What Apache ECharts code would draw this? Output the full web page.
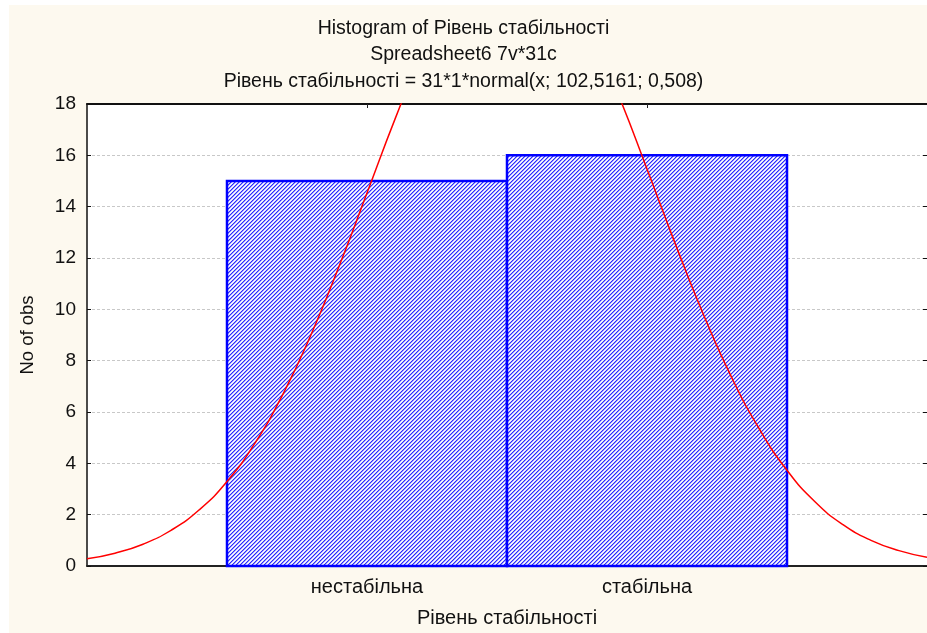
<!DOCTYPE html>
<html>
<head>
<meta charset="utf-8">
<script src="https://cdn.jsdelivr.net/npm/echarts@6/dist/echarts.min.js"></script>
<style>
html,body{margin:0;padding:0;background:#ffffff;}
#chart{width:927px;height:633px;}
</style>
</head>
<body>
<div id="chart"></div>
<script>
// ---- data ----
const categories = ['нестабільна', 'стабільна'];
const binCenters = [102, 103];
const counts = [15, 16];
const yTicks = [0, 2, 4, 6, 8, 10, 12, 14, 16, 18];
// fitted normal curve: Рівень стабільності = 31*1*normal(x; 102,5161; 0,508)
const curveX = [101.0,101.1,101.2,101.3,101.4,101.5,101.6,101.7,101.8,101.9,102.0,102.1,102.2,102.3,102.4,102.5,102.6,102.7,102.8,102.9,103.0,103.1,103.2,103.3,103.4,103.5,103.6,103.7,103.8,103.9,104.0];
const curveY = [0.28,0.50,0.85,1.39,2.18,3.29,4.79,6.70,9.01,11.67,14.53,17.41,20.06,22.24,23.72,24.33,24.02,22.80,20.83,18.30,15.47,12.58,9.84,7.40,5.36,3.73,2.50,1.61,1.00,0.60,0.34];
const titleLines = ['Histogram of Рівень стабільності', 'Spreadsheet6 7v*31c', 'Рівень стабільності = 31*1*normal(x; 102,5161; 0,508)'];

// hatch pattern
function makeHatch() {
  const c = document.createElement('canvas');
  c.width = 4; c.height = 4;
  const ctx = c.getContext('2d');
  const cols = ['#2a2aff', '#9a9aff', '#ffffff', '#dadaff'];
  for (let x = 0; x < 4; x++) {
    for (let y = 0; y < 4; y++) {
      ctx.fillStyle = cols[(x + y) % 4];
      ctx.fillRect(x, y, 1, 1);
    }
  }
  return c;
}
const hatch = makeHatch();

const chart = echarts.init(document.getElementById('chart'), null, {renderer: 'canvas'});
const fontFam = '"Liberation Sans", Arial, sans-serif';

const option = {
  backgroundColor: '#ffffff',
  animation: false,
  graphic: [{
    type: 'rect', z: -10, silent: true,
    shape: {x: 9, y: 5, width: 918, height: 628},
    style: {fill: '#fdf9ef'}
  }],
  title: titleLines.map((t, i) => ({
    text: t,
    left: 'center',
    top: [19, 45, 72][i],
    padding: 0,
    textStyle: {fontFamily: fontFam, fontSize: 19.5, fontWeight: 'normal', color: '#111111'}
  })),
  grid: {
    left: 87, right: 0, top: 104, bottom: 66,
    show: true, backgroundColor: '#ffffff', borderWidth: 0
  },
  xAxis: [{
    type: 'value', min: 101, max: 104, interval: 1, position: 'bottom',
    name: 'Рівень стабільності', nameLocation: 'middle', nameGap: 42,
    nameTextStyle: {fontFamily: fontFam, fontSize: 20, color: '#111111'},
    axisLine: {show: true, lineStyle: {color: '#222222', width: 2}},
    axisTick: {show: true, inside: true, length: 4, customValues: binCenters, lineStyle: {color: '#222222'}},
    axisLabel: {
      customValues: binCenters, margin: 11,
      fontFamily: fontFam, fontSize: 20, color: '#111111',
      formatter: v => categories[binCenters.indexOf(v)] || ''
    },
    splitLine: {show: false}
  }, {
    type: 'value', min: 101, max: 104, interval: 1, position: 'top',
    axisLine: {show: true, onZero: false, lineStyle: {color: '#111111', width: 2}},
    axisTick: {show: true, inside: true, length: 4, customValues: binCenters, lineStyle: {color: '#222222'}},
    axisLabel: {show: false},
    splitLine: {show: false}
  }],
  yAxis: [{
    type: 'value', min: 0, max: 18, interval: 2, position: 'left',
    name: 'No of obs', nameLocation: 'middle', nameGap: 50,
    nameTextStyle: {fontFamily: fontFam, fontSize: 18.5, color: '#111111'},
    axisLine: {show: true, lineStyle: {color: '#111111', width: 1.5}},
    axisTick: {show: true, inside: true, length: 4, lineStyle: {color: '#111111'}},
    axisLabel: {fontFamily: fontFam, fontSize: 19, color: '#111111', margin: 11,
      formatter: v => yTicks.indexOf(v) >= 0 ? String(v) : ''},
    splitLine: {show: true, lineStyle: {color: '#c8c8c8', type: [3, 2], width: 1}}
  }, {
    type: 'value', min: 0, max: 18, interval: 2, position: 'right',
    axisLine: {show: false},
    axisTick: {show: true, inside: true, length: 4, lineStyle: {color: '#111111'}},
    axisLabel: {show: false},
    splitLine: {show: false}
  }],
  series: [{
    type: 'custom',
    xAxisIndex: 0, yAxisIndex: 0,
    data: binCenters.map((c, i) => [c, counts[i]]),
    renderItem: function (params, api) {
      const x = api.value(0), y = api.value(1);
      const p0 = api.coord([x - 0.5, y]);
      const p1 = api.coord([x + 0.5, 0]);
      return {
        type: 'rect',
        shape: {x: p0[0], y: p0[1], width: p1[0] - p0[0], height: p1[1] - p0[1]},
        style: {fill: {image: hatch, repeat: 'repeat'}, stroke: '#0000ff', lineWidth: 2.5}
      };
    },
    z: 2
  }, {
    type: 'line',
    xAxisIndex: 0, yAxisIndex: 0,
    data: curveX.map((x, i) => [x, curveY[i]]),
    smooth: true,
    showSymbol: false,
    clip: true,
    lineStyle: {color: '#ff0000', width: 1.5},
    z: 5
  }]
};
chart.setOption(option);
</script>
</body>
</html>
